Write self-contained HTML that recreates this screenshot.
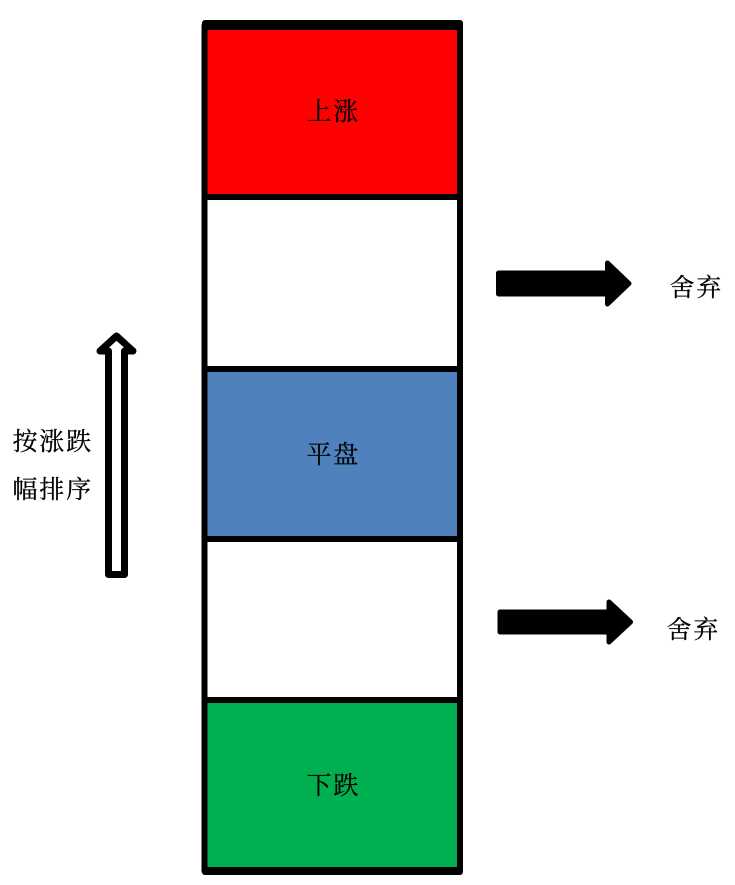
<!DOCTYPE html>
<html>
<head>
<meta charset="utf-8">
<style>
html,body{margin:0;padding:0;background:#fff;width:735px;height:885px;overflow:hidden}
svg{display:block}
text{font-family:"Liberation Serif","Noto Serif CJK SC",serif;font-size:25px;fill:#000;stroke:#000;stroke-width:.25px;letter-spacing:1.8px}
</style>
</head>
<body>
<svg width="735" height="885" viewBox="0 0 735 885" xmlns="http://www.w3.org/2000/svg">
<rect x="0" y="0" width="735" height="885" fill="#fff"/>
<rect x="207" y="30" width="250" height="164" fill="#ff0000"/>
<rect x="207" y="372" width="250" height="164" fill="#4f81bd"/>
<rect x="207" y="703" width="250" height="164" fill="#00b050"/>
<rect x="204.500" y="24.500" width="255.500" height="847.500" rx="1" fill="none" stroke="#000" stroke-width="6" stroke-linejoin="round"/>
<rect x="202" y="20" width="261" height="10" rx="3" fill="#000"/>
<rect x="202" y="867" width="261" height="8" rx="3" fill="#000"/>
<rect x="204" y="194" width="256" height="6" fill="#000"/>
<rect x="204" y="366" width="256" height="6" fill="#000"/>
<rect x="204" y="536" width="256" height="6" fill="#000"/>
<rect x="204" y="697" width="256" height="6" fill="#000"/>
<path d="M108.500 574.500 V351 H100 L116.500 336 L133 351 H124.500 V574.500 Z" fill="#fff" stroke="#000" stroke-width="7" stroke-linejoin="round"/>
<path d="M498.500 273 H607.500 V263 L629 283.500 L607.500 304 V294 H498.500 Z" fill="#000" stroke="#000" stroke-width="5" stroke-linejoin="round"/>
<path d="M500 612 H609 V602 L630.500 622 L609 642 V632 H500 Z" fill="#000" stroke="#000" stroke-width="5" stroke-linejoin="round"/>
<text x="306.500" y="120">上涨</text>
<text x="306.500" y="463">平盘</text>
<text x="306.500" y="794">下跌</text>
<text x="669.500" y="296">舍弃</text>
<text x="666.500" y="638">舍弃</text>
<text x="12.500" y="450">按涨跌</text>
<text x="12.500" y="498">幅排序</text>
</svg>
</body>
</html>
